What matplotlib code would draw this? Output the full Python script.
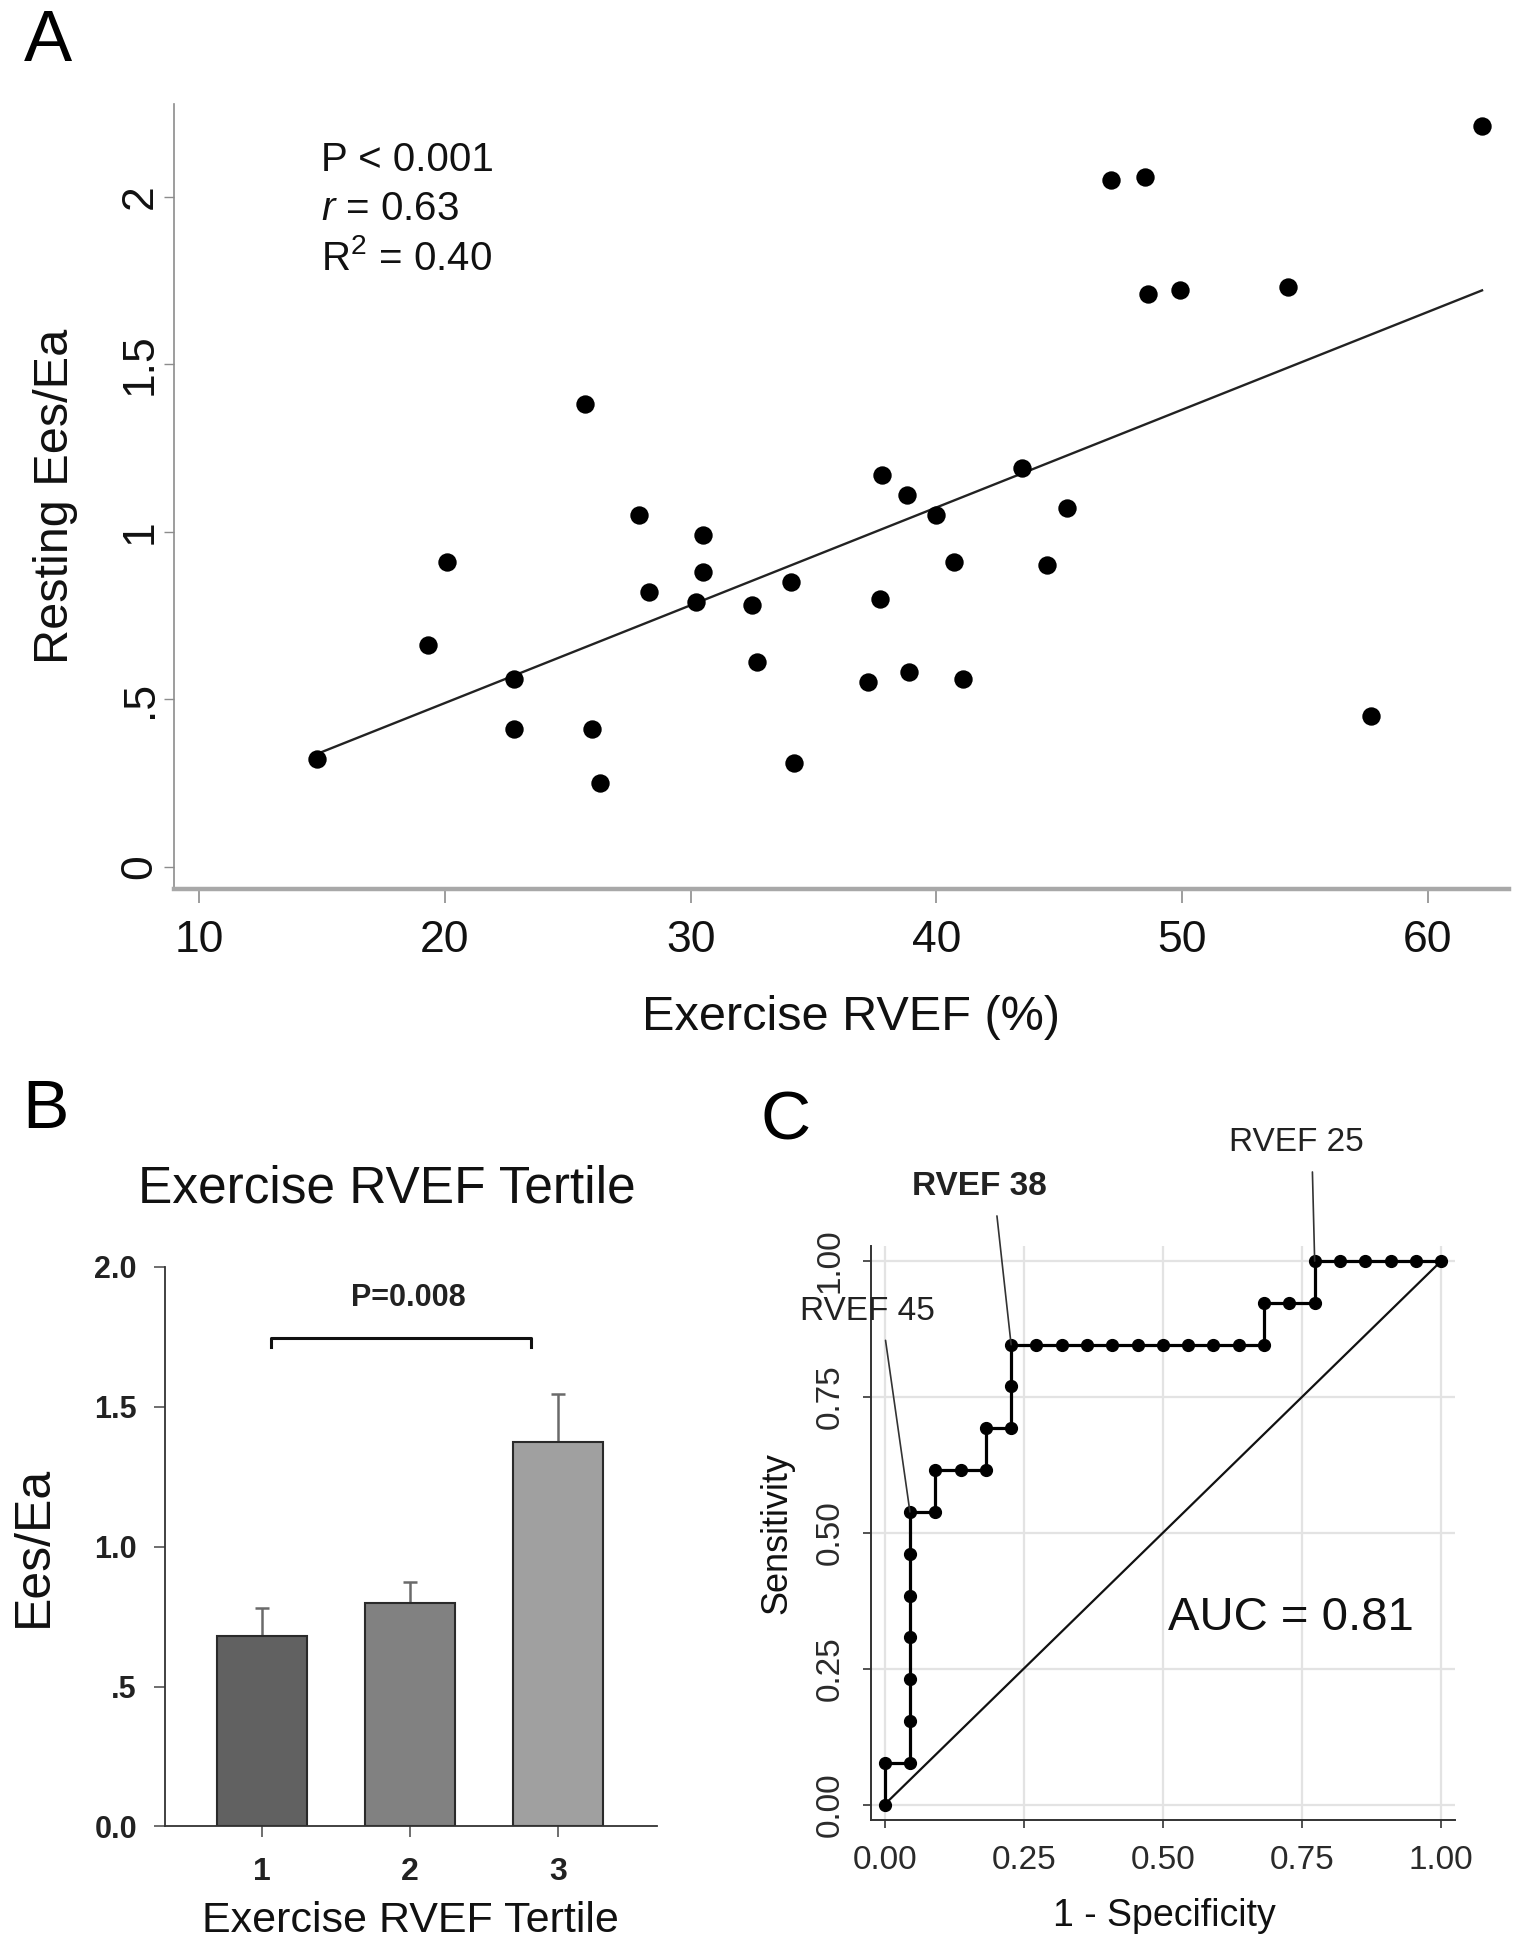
import matplotlib
matplotlib.use('Agg')
import matplotlib.pyplot as plt
import numpy as np

plt.rcParams['font.family'] = ['Liberation Sans', 'DejaVu Sans']
plt.rcParams['mathtext.fontset'] = 'custom'
plt.rcParams['mathtext.rm'] = 'Liberation Sans'
plt.rcParams['mathtext.it'] = 'Liberation Sans:italic'

# ---------------- Panel A data ----------------
exercise_rvef = [14.8, 19.3, 20.1, 22.8, 22.8, 25.7, 26.0, 26.3, 27.9, 28.3,
                 30.2, 30.5, 30.5, 32.5, 32.7, 34.1, 34.2, 37.2, 37.7, 37.8,
                 38.9, 38.8, 40.0, 40.7, 41.1, 43.5, 44.5, 45.3, 47.1, 48.5,
                 48.6, 49.9, 54.3, 57.7, 62.2]
resting_ees_ea = [0.32, 0.66, 0.91, 0.56, 0.41, 1.38, 0.41, 0.25, 1.05, 0.82,
                  0.79, 0.88, 0.99, 0.78, 0.61, 0.85, 0.31, 0.55, 0.80, 1.17,
                  0.58, 1.11, 1.05, 0.91, 0.56, 1.19, 0.90, 1.07, 2.05, 2.06,
                  1.71, 1.72, 1.73, 0.45, 2.21]
a_xticks = [10, 20, 30, 40, 50, 60]
a_yticks = [0, 0.5, 1, 1.5, 2]
a_yticklabels = ['0', '.5', '1', '1.5', '2']
a_stats = ['P < 0.001', r'$\mathit{r}$ = 0.63', 'R$^2$ = 0.40']

# ---------------- Panel B data ----------------
tertile_pos = [1, 2, 3]
tertile_labels = ['1', '2', '3']
tertile_mean = [0.68, 0.80, 1.375]
tertile_err = [0.10, 0.073, 0.172]
tertile_colors = ['#616161', '#818181', '#a0a0a0']
b_yticks = [0.0, 0.5, 1.0, 1.5, 2.0]
b_yticklabels = ['0.0', '.5', '1.0', '1.5', '2.0']
b_pvalue = 'P=0.008'

# ---------------- Panel C data ----------------
n_neg = 22
n_pos = 13
roc_fp = [0, 0, 1, 1, 1, 1, 1, 1, 1, 2, 2, 3, 4, 4, 5, 5, 5, 6, 7, 8, 9, 10,
          11, 12, 13, 14, 15, 15, 16, 17, 17, 18, 19, 20, 21, 22]
roc_tp = [0, 1, 1, 2, 3, 4, 5, 6, 7, 7, 8, 8, 8, 9, 9, 10, 11, 11, 11, 11, 11, 11,
          11, 11, 11, 11, 11, 12, 12, 12, 13, 13, 13, 13, 13, 13]
c_ticks = [0.0, 0.25, 0.5, 0.75, 1.0]
c_ticklabels = ['0.00', '0.25', '0.50', '0.75', '1.00']
cutoff_labels = ['RVEF 45', 'RVEF 38', 'RVEF 25']
cutoff_index = [8, 16, 30]
auc_text = 'AUC = 0.81'

fig = plt.figure(figsize=(15.13, 19.5), dpi=100)

# ================= Panel A =================
axA = fig.add_axes([0.1153, 0.5441, 0.8821, 0.4028])
axA.scatter(exercise_rvef, resting_ees_ea, s=175, color='black', linewidths=0, zorder=3)
slope, intercept = np.polyfit(exercise_rvef, resting_ees_ea, 1)
xfit = np.array([min(exercise_rvef), max(exercise_rvef)])
axA.plot(xfit, intercept + slope * xfit, color='#222222', lw=1.7, zorder=2)
axA.set_xlim(9.0, 63.3)
axA.set_ylim(-0.067, 2.278)
for s in ['top', 'right']:
    axA.spines[s].set_visible(False)
axA.spines['left'].set_color('#8c8c8c')
axA.spines['left'].set_linewidth(1.2)
axA.spines['bottom'].set_color('#a8a8a8')
axA.spines['bottom'].set_linewidth(3.2)
axA.set_xticks(a_xticks)
axA.set_xticklabels([str(t) for t in a_xticks], fontsize=32, color='#111111')
axA.set_yticks(a_yticks)
axA.set_yticklabels(a_yticklabels, fontsize=32, rotation=90, va='center', color='#111111')
axA.tick_params(axis='x', length=10, width=1.2, color='#8c8c8c', pad=12)
axA.tick_params(axis='y', length=7, width=1.0, color='#8c8c8c', pad=3)
axA.set_xlabel('Exercise RVEF (%)', fontsize=35, va='center', color='#111111')
axA.xaxis.set_label_coords(0.507, -0.163)
axA.set_ylabel('Resting Ees/Ea', fontsize=35, va='center', color='#111111')
axA.yaxis.set_label_coords(-0.089, 0.5)
for i, t in enumerate(a_stats):
    axA.text(14.95, 2.11 - i * 0.148, t, fontsize=29, ha='left', va='center', color='#111111')
fig.text(0.032, 0.978, 'A', fontsize=52, ha='center', va='center')

# ================= Panel B =================
axB = fig.add_axes([0.1089, 0.0634, 0.3252, 0.2869])
axB.errorbar(tertile_pos, tertile_mean, yerr=[[0, 0, 0], tertile_err], fmt='none',
             ecolor='#6a6a6a', elinewidth=1.8, capsize=5, capthick=1.8, zorder=1)
axB.bar(tertile_pos, tertile_mean, width=0.61, color=tertile_colors,
        edgecolor='#2a2a2a', linewidth=1.5, zorder=2)
axB.set_xlim(0.343, 3.67)
axB.set_ylim(0, 2.0)
for s in ['top', 'right']:
    axB.spines[s].set_visible(False)
for s in ['left', 'bottom']:
    axB.spines[s].set_color('#333333')
    axB.spines[s].set_linewidth(1.3)
axB.set_xticks(tertile_pos)
axB.set_xticklabels(tertile_labels, fontsize=23, fontweight='bold', color='#222222')
axB.set_yticks(b_yticks)
axB.set_yticklabels(b_yticklabels, fontsize=22, fontweight='bold', color='#222222')
axB.tick_params(axis='both', length=8, width=1.2, color='#555555')
axB.tick_params(axis='x', pad=14)
axB.tick_params(axis='y', pad=12)
bx0, bx1, by_top, by_bot = 1.06, 2.82, 1.747, 1.714
axB.plot([bx0, bx0, bx1, bx1], [by_bot, by_top, by_top, by_bot], color='#111111', lw=2.2)
axB.text((bx0 + bx1) / 2 + 0.05, 1.889, b_pvalue, fontsize=22, fontweight='bold',
         ha='center', va='center', color='#222222')
axB.set_xlabel('Exercise RVEF Tertile', fontsize=31, va='center', color='#111111')
axB.xaxis.set_label_coords(0.5, -0.169)
axB.set_ylabel('Ees/Ea', fontsize=36, va='center', color='#111111')
axB.yaxis.set_label_coords(-0.266, 0.5)
axB.text(0.452, 1.139, 'Exercise RVEF Tertile', fontsize=37, ha='center', va='center',
         transform=axB.transAxes, color='#111111')
fig.text(0.030, 0.431, 'B', fontsize=50, ha='center', va='center')

# ================= Panel C =================
axC = fig.add_axes([0.5755, 0.0668, 0.3862, 0.2943])
fpr = np.array(roc_fp) / n_neg
tpr = np.array(roc_tp) / n_pos
axC.set_xlim(-0.025, 1.025)
axC.set_ylim(-0.028, 1.028)
axC.set_xticks(c_ticks)
axC.set_yticks(c_ticks)
axC.grid(True, color='#e3e3e3', lw=1.6)
axC.set_axisbelow(True)
axC.plot([0, 1], [0, 1], color='#111111', lw=1.6, zorder=2)
axC.plot(fpr, tpr, color='black', lw=2.3, marker='o', ms=8.5, zorder=3)
for s in ['top', 'right']:
    axC.spines[s].set_visible(False)
for s in ['left', 'bottom']:
    axC.spines[s].set_color('#333333')
    axC.spines[s].set_linewidth(1.4)
axC.set_xticklabels(c_ticklabels, fontsize=24, color='#2a2a2a')
axC.set_yticklabels(c_ticklabels, fontsize=24, color='#2a2a2a', rotation=90, va='center')
axC.tick_params(axis='both', length=6, width=1.2, color='#333333')
axC.tick_params(axis='x', pad=12)
axC.tick_params(axis='y', pad=12)
axC.set_xlabel('1 - Specificity', fontsize=27, va='center', color='#111111')
axC.xaxis.set_label_coords(0.502, -0.167)
axC.set_ylabel('Sensitivity', fontsize=26, va='center', color='#111111')
axC.yaxis.set_label_coords(-0.160, 0.5)

label_xy = [(-0.031, 0.908), (0.17, 1.137), (0.739, 1.218)]
label_weight = ['normal', 'bold', 'normal']
for lab, idx, (tx, ty), w in zip(cutoff_labels, cutoff_index, label_xy, label_weight):
    axC.annotate(lab, xy=(fpr[idx], tpr[idx]), xytext=(tx, ty), textcoords='data',
                 fontsize=24, fontweight=w, ha='center', va='center', color='#222222',
                 annotation_clip=False,
                 arrowprops=dict(arrowstyle='-', color='#333333', lw=1.2,
                                 relpos=(0.62, 0.0), shrinkA=8, shrinkB=0))
axC.text(0.73, 0.344, auc_text, fontsize=34, ha='center', va='center', color='#111111')
fig.text(0.519, 0.425, 'C', fontsize=50, ha='center', va='center')

fig.savefig('out.png', dpi=100)
